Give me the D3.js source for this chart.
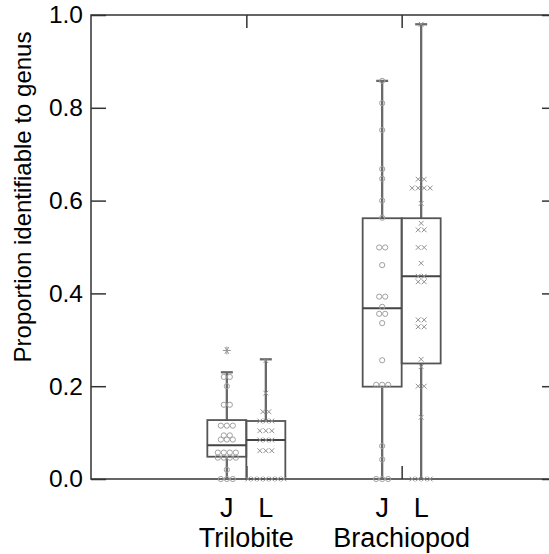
<!DOCTYPE html>
<html>
<head>
<meta charset="utf-8">
<script src="https://cdn.jsdelivr.net/npm/d3@7"></script>
<style>
  body { margin: 0; background: #fff; }
  svg text { font-family: "Liberation Sans", Arial, sans-serif; fill: #000; }
</style>
</head>
<body>
<div id="my_dataviz"></div>
<script>
const groups = ["Trilobite", "Brachiopod"];
const periods = ["J", "L"];
const yTicks = [0, 0.2, 0.4, 0.6, 0.8, 1.0];

// order of boxes: Trilobite J, Trilobite L, Brachiopod J, Brachiopod L
const whiskerLow = [0, 0, 0, 0];
const quartile1 = [0.048, 0, 0.199, 0.249];
const medians = [0.073, 0.084, 0.368, 0.437];
const quartile3 = [0.127, 0.125, 0.562, 0.562];
const whiskerHigh = [0.23, 0.258, 0.858, 0.98];
const extremes = [[0.277], [], [], []];

const trilobiteJ = [0.22, 0.22, 0.2, 0.16, 0.16, 0.115, 0.115, 0.115, 0.094, 0.094,
    0.085, 0.085, 0.085, 0.057, 0.057, 0.057, 0.057, 0.046, 0.046, 0.046, 0.046,
    0.02, 0, 0, 0];
const trilobiteL = [0.255, 0.185, 0.145, 0.145, 0.125, 0.125, 0.125, 0.104, 0.104, 0.104,
    0.084, 0.084, 0.084, 0.061, 0.061, 0.061, 0, 0, 0, 0, 0, 0, 0];
const brachiopodJ = [0.858, 0.81, 0.752, 0.668, 0.647, 0.6, 0.563, 0.499, 0.499, 0.461,
    0.393, 0.393, 0.371, 0.356, 0.356, 0.336, 0.256, 0.203, 0.203, 0.203,
    0.071, 0.042, 0, 0, 0];
const brachiopodL = [0.98, 0.646, 0.646, 0.627, 0.627, 0.627, 0.627, 0.594, 0.551, 0.537, 0.537,
    0.499, 0.499, 0.465, 0.437, 0.437, 0.425, 0.425, 0.343, 0.343, 0.328, 0.328,
    0.258, 0.242, 0.2, 0.2, 0.133, 0, 0, 0, 0];

const series = [trilobiteJ, trilobiteL, brachiopodJ, brachiopodL];

const width = 549, height = 554;
const margin = { top: 15, right: -8, bottom: 75, left: 91 };
const innerW = width - margin.left - margin.right;
const innerH = height - margin.top - margin.bottom;

const svg = d3.select("#my_dataviz")
    .append("svg")
    .attr("width", width)
    .attr("height", height)
    .append("g")
    .attr("transform", `translate(${margin.left},${margin.top})`);

const x = d3.scaleLinear().domain([0, groups.length + 1]).range([0, innerW]);
const y = d3.scaleLinear().domain([0, 1]).range([innerH, 0]);

const boxW = 39;
const boxes = series.map((vals, i) => {
    const g = Math.floor(i / 2);
    const p = i % 2;
    return {
        cx: x(g + 1) + (p === 0 ? -boxW / 2 : boxW / 2),
        values: vals,
        period: p,
        lo: whiskerLow[i], q1: quartile1[i], med: medians[i], q3: quartile3[i], hi: whiskerHigh[i],
        ext: extremes[i]
    };
});

// frame
svg.append("rect")
    .attr("width", innerW)
    .attr("height", innerH)
    .attr("fill", "none")
    .attr("stroke", "#333")
    .attr("stroke-width", 1.5);

const styleAxis = g => {
    g.select(".domain").remove();
    g.selectAll(".tick line").attr("stroke", "#333").attr("stroke-width", 1.5);
};

svg.append("g")
    .call(d3.axisLeft(y).tickValues(yTicks).tickFormat(d3.format(".1f")).tickSize(-15).tickPadding(8))
    .call(styleAxis)
    .selectAll("text")
    .style("font-size", "24.5px")
    .attr("font-family", null);

svg.append("g")
    .attr("transform", `translate(${innerW},0)`)
    .call(d3.axisRight(y).tickValues(yTicks).tickFormat("").tickSize(-15))
    .call(styleAxis);

svg.append("g")
    .call(d3.axisTop(x).tickValues(d3.range(1, groups.length + 1)).tickFormat("").tickSize(-13))
    .call(styleAxis);

svg.append("g")
    .attr("transform", `translate(0,${innerH})`)
    .call(d3.axisBottom(x).tickValues(d3.range(1, groups.length + 1)).tickFormat("").tickSize(-13))
    .call(styleAxis);

// whiskers
const whisk = svg.append("g").attr("stroke", "#6a6a6a").attr("stroke-width", 2.3);
boxes.forEach(b => {
    if (b.hi > b.q3) {
        whisk.append("line").attr("x1", b.cx).attr("x2", b.cx).attr("y1", y(b.q3)).attr("y2", y(b.hi));
        whisk.append("line").attr("x1", b.cx - 6).attr("x2", b.cx + 6).attr("y1", y(b.hi)).attr("y2", y(b.hi));
    }
    if (b.lo < b.q1) {
        whisk.append("line").attr("x1", b.cx).attr("x2", b.cx).attr("y1", y(b.q1)).attr("y2", y(b.lo));
    }
});

// boxes
svg.selectAll(".box")
    .data(boxes)
    .enter()
    .append("rect")
    .attr("x", d => d.cx - boxW / 2)
    .attr("y", d => y(d.q3))
    .attr("width", boxW)
    .attr("height", d => y(d.q1) - y(d.q3))
    .attr("fill", "none")
    .attr("stroke", "#555")
    .attr("stroke-width", 1.8);

svg.selectAll(".median")
    .data(boxes)
    .enter()
    .append("line")
    .attr("x1", d => d.cx - boxW / 2)
    .attr("x2", d => d.cx + boxW / 2)
    .attr("y1", d => y(d.med))
    .attr("y2", d => y(d.med))
    .attr("stroke", "#444")
    .attr("stroke-width", 2);

// points, tied values spread sideways
const spacing = 6;
const cross = (cx, cy, r) => `M${cx - r},${cy - r}L${cx + r},${cy + r}M${cx - r},${cy + r}L${cx + r},${cy - r}`;
const pts = svg.append("g").attr("fill", "none").attr("stroke-width", 1);
boxes.forEach(b => {
    const tied = d3.group(b.values, v => v);
    tied.forEach((vals, v) => {
        vals.forEach((_, k) => {
            const px = b.cx + (k - (vals.length - 1) / 2) * spacing;
            if (b.period === 0) {
                pts.append("circle").attr("cx", px).attr("cy", y(v)).attr("r", 2.6).attr("stroke", "#a0a0a0");
            } else {
                pts.append("path").attr("d", cross(px, y(v), 2.4)).attr("stroke", "#909090");
            }
        });
    });
    b.ext.forEach(v => {
        const cy = y(v), r = 4;
        let d = "";
        [0, 60, 120].forEach(a => {
            const dx = r * Math.cos(a * Math.PI / 180), dy = r * Math.sin(a * Math.PI / 180);
            d += `M${b.cx - dx},${cy - dy}L${b.cx + dx},${cy + dy}`;
        });
        d += `M${b.cx},${cy - r}L${b.cx},${cy + r}`;
        pts.append("path").attr("d", d).attr("stroke", "#999");
    });
});

// category labels
svg.selectAll(".period")
    .data(boxes)
    .enter()
    .append("text")
    .attr("x", d => d.cx)
    .attr("y", innerH + 38)
    .attr("text-anchor", "middle")
    .style("font-size", "27px")
    .text(d => periods[d.period]);

svg.selectAll(".group")
    .data(groups)
    .enter()
    .append("text")
    .attr("x", (d, i) => x(i + 1))
    .attr("y", innerH + 68)
    .attr("text-anchor", "middle")
    .style("font-size", "27px")
    .text(d => d);

svg.append("text")
    .attr("text-anchor", "middle")
    .attr("transform", "rotate(-90)")
    .attr("x", -(197 - margin.top))
    .attr("y", 31 - margin.left)
    .style("font-size", "24px")
    .text("Proportion identifiable to genus");
</script>
</body>
</html>
